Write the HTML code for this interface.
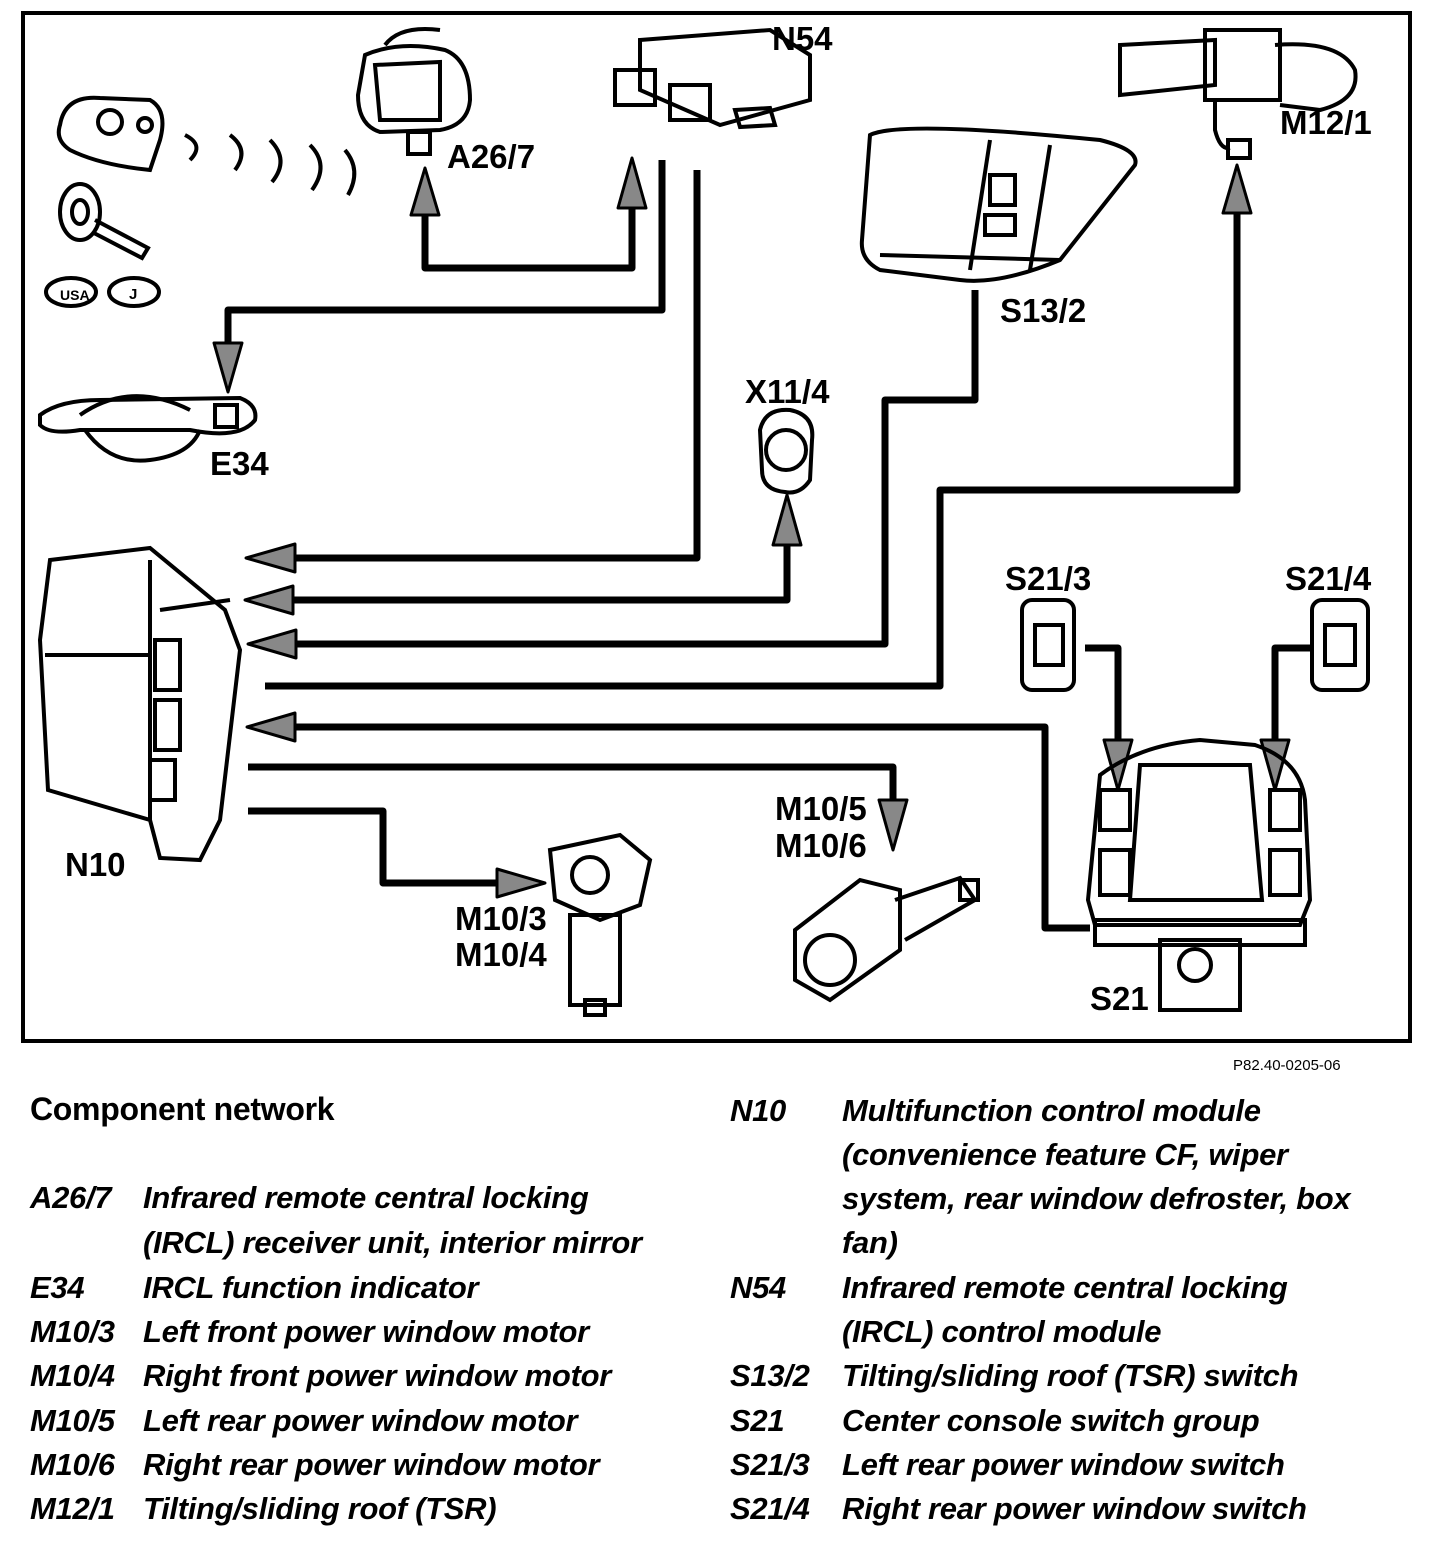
<!DOCTYPE html>
<html><head><style>
html,body{margin:0;padding:0;background:#fff}
body{width:1440px;height:1550px;position:relative;overflow:hidden;font-family:"Liberation Sans",sans-serif}
.lg{position:absolute;font-weight:bold;font-style:italic;font-size:31px;letter-spacing:-0.3px;color:#000;white-space:nowrap}
</style></head><body>
<svg width="1440" height="1080" style="position:absolute;left:0;top:0" font-family="Liberation Sans" font-weight="bold">
<rect x="23" y="13" width="1387" height="1028" fill="none" stroke="#000" stroke-width="4"/>
<g fill="none" stroke="#000" stroke-width="7" stroke-linejoin="round">
<polyline points="425,210 425,268 632,268 632,205"/>
<polyline points="662,160 662,310 228,310 228,345"/>
<polyline points="697,170 697,558 290,558"/>
<polyline points="787,540 787,600 290,600"/>
<polyline points="975,290 975,400 885,400 885,644 290,644"/>
<polyline points="1237,210 1237,490 940,490 940,686 265,686"/>
<polyline points="290,727 1045,727 1045,928 1090,928"/>
<polyline points="248,767 893,767 893,805"/>
<polyline points="248,811 383,811 383,883 500,883"/>
<polyline points="1085,648 1118,648 1118,745"/>
<polyline points="1310,648 1275,648 1275,745"/>
</g>
<g fill="#888" stroke="#000" stroke-width="3" stroke-linejoin="round">
<polygon points="246,558 295,544 295,572"/>
<polygon points="245,600 293,586 293,614"/>
<polygon points="248,644 296,630 296,658"/>
<polygon points="247,727 295,713 295,741"/>
<polygon points="425,168 411,215 439,215"/>
<polygon points="632,158 618,208 646,208"/>
<polygon points="787,495 773,545 801,545"/>
<polygon points="1237,165 1223,213 1251,213"/>
<polygon points="228,392 214,343 242,343"/>
<polygon points="893,850 879,800 907,800"/>
<polygon points="545,883 497,869 497,897"/>
<polygon points="1118,790 1104,740 1132,740"/>
<polygon points="1275,790 1261,740 1289,740"/>
</g>
<g fill="none" stroke="#000" stroke-width="4">
<path d="M60,125 Q65,95 100,98 L150,100 Q168,110 160,140 L150,170 Q100,165 70,150 Q55,140 60,125Z"/>
<circle cx="110" cy="122" r="12"/><circle cx="145" cy="125" r="7"/>
<ellipse cx="80" cy="212" rx="20" ry="28"/><ellipse cx="80" cy="212" rx="8" ry="12"/>
<path d="M95,220 L148,248 L142,258 L92,232"/>
<ellipse cx="71" cy="292" rx="25" ry="14"/><ellipse cx="134" cy="292" rx="25" ry="14"/>
<path d="M185,135 Q205,145 190,160"/><path d="M230,135 Q250,150 235,170"/><path d="M270,140 Q290,160 272,182"/><path d="M310,145 Q330,165 312,190"/><path d="M345,150 Q362,170 348,195"/>
<path d="M365,55 Q400,40 445,50 Q470,60 470,100 Q468,125 440,130 L380,132 Q358,125 358,95Z"/>
<path d="M375,65 L440,62 L440,120 L380,120Z"/>
<rect x="408" y="132" width="22" height="22"/>
<path d="M385,45 Q400,25 440,30"/>
<path d="M640,40 L770,30 L810,55 L810,100 L720,125 L640,90Z"/>
<rect x="615" y="70" width="40" height="35"/><rect x="670" y="85" width="40" height="35"/>
<path d="M735,110 L770,108 L775,125 L740,127Z"/>
<path d="M1120,45 L1215,40 L1215,85 L1120,95Z"/>
<rect x="1205" y="30" width="75" height="70"/>
<path d="M1275,45 Q1340,40 1355,70 Q1360,100 1320,110 L1280,105"/>
<path d="M1215,100 L1215,130 Q1220,150 1230,148"/><rect x="1228" y="140" width="22" height="18"/>
<path d="M870,135 Q900,120 1100,140 Q1140,150 1135,165 L1060,260 Q1000,285 960,280 L880,270 Q860,260 862,240Z"/>
<path d="M990,140 L970,270"/><path d="M1050,145 L1030,270"/>
<rect x="990" y="175" width="25" height="30"/><rect x="985" y="215" width="30" height="20"/>
<path d="M880,255 L1060,260"/>
<path d="M40,415 Q60,400 100,400 L240,398 Q258,405 255,420 Q240,440 190,430 L80,430 Q50,435 40,425Z"/>
<path d="M85,430 Q110,465 150,460 Q190,455 200,430"/>
<path d="M80,415 Q130,380 190,410"/><rect x="215" y="405" width="22" height="22"/>
<path d="M760,430 Q765,408 790,410 Q815,415 812,440 L810,480 Q800,495 785,492 Q762,490 762,470Z"/>
<circle cx="786" cy="450" r="20"/>
<path d="M50,560 L150,548 L225,610 L240,650 L220,820 L200,860 L160,858 L150,820 L48,790 L40,640Z"/>
<path d="M45,655 L148,655"/><path d="M150,560 L150,820"/><path d="M160,610 L230,600"/>
<rect x="155" y="640" width="25" height="50"/><rect x="155" y="700" width="25" height="50"/><rect x="150" y="760" width="25" height="40"/>
<rect x="1022" y="600" width="52" height="90" rx="10"/><rect x="1035" y="625" width="28" height="40"/>
<rect x="1312" y="600" width="56" height="90" rx="10"/><rect x="1325" y="625" width="30" height="40"/>
<path d="M1100,775 Q1140,745 1200,740 L1255,745 Q1300,760 1305,800 L1310,900 L1300,925 L1095,925 L1088,900Z"/>
<path d="M1140,765 L1250,765 L1262,900 L1130,900Z"/>
<rect x="1095" y="920" width="210" height="25"/>
<rect x="1160" y="940" width="80" height="70"/><circle cx="1195" cy="965" r="16"/>
<rect x="1100" y="790" width="30" height="40"/><rect x="1100" y="850" width="30" height="45"/>
<rect x="1270" y="790" width="30" height="40"/><rect x="1270" y="850" width="30" height="45"/>
<path d="M550,850 L620,835 L650,860 L640,905 L600,920 L555,900Z"/>
<circle cx="590" cy="875" r="18"/>
<rect x="570" y="915" width="50" height="90"/><rect x="585" y="1000" width="20" height="15"/>
<path d="M795,930 L860,880 L900,890 L900,950 L830,1000 L795,980Z"/>
<circle cx="830" cy="960" r="25"/>
<path d="M895,900 L960,878 L975,900 L905,940"/><rect x="960" y="880" width="18" height="20"/>
</g>
<g font-size="33" fill="#000">
<text x="447" y="168">A26/7</text>
<text x="772" y="50">N54</text>
<text x="1280" y="134">M12/1</text>
<text x="1000" y="322">S13/2</text>
<text x="210" y="475">E34</text>
<text x="745" y="403">X11/4</text>
<text x="65" y="876">N10</text>
<text x="1005" y="590">S21/3</text>
<text x="1285" y="590">S21/4</text>
<text x="1090" y="1010">S21</text>
<text x="455" y="930">M10/3</text>
<text x="455" y="966">M10/4</text>
<text x="775" y="820">M10/5</text>
<text x="775" y="857">M10/6</text>
<text x="60" y="300" font-size="14">USA</text>
<text x="129" y="299" font-size="15">J</text>
<text x="1233" y="1070" font-size="15" font-weight="normal">P82.40-0205-06</text>
</g>
</svg>
<div class="lg" style="left:30px;top:1091px;font-style:normal;font-size:32px">Component network</div>
<div class="lg" style="left:30px;top:1180px">A26/7</div><div class="lg" style="left:143px;top:1180px">Infrared remote central locking</div>
<div class="lg" style="left:143px;top:1225px">(IRCL) receiver unit, interior mirror</div>
<div class="lg" style="left:30px;top:1270px">E34</div><div class="lg" style="left:143px;top:1270px">IRCL function indicator</div>
<div class="lg" style="left:30px;top:1314px">M10/3</div><div class="lg" style="left:143px;top:1314px">Left front power window motor</div>
<div class="lg" style="left:30px;top:1358px">M10/4</div><div class="lg" style="left:143px;top:1358px">Right front power window motor</div>
<div class="lg" style="left:30px;top:1403px">M10/5</div><div class="lg" style="left:143px;top:1403px">Left rear power window motor</div>
<div class="lg" style="left:30px;top:1447px">M10/6</div><div class="lg" style="left:143px;top:1447px">Right rear power window motor</div>
<div class="lg" style="left:30px;top:1491px">M12/1</div><div class="lg" style="left:143px;top:1491px">Tilting/sliding roof (TSR)</div>
<div class="lg" style="left:730px;top:1093px">N10</div><div class="lg" style="left:842px;top:1093px">Multifunction control module</div>
<div class="lg" style="left:842px;top:1137px">(convenience feature CF, wiper</div>
<div class="lg" style="left:842px;top:1181px">system, rear window defroster, box</div>
<div class="lg" style="left:842px;top:1225px">fan)</div>
<div class="lg" style="left:730px;top:1270px">N54</div><div class="lg" style="left:842px;top:1270px">Infrared remote central locking</div>
<div class="lg" style="left:842px;top:1314px">(IRCL) control module</div>
<div class="lg" style="left:730px;top:1358px">S13/2</div><div class="lg" style="left:842px;top:1358px">Tilting/sliding roof (TSR) switch</div>
<div class="lg" style="left:730px;top:1403px">S21</div><div class="lg" style="left:842px;top:1403px">Center console switch group</div>
<div class="lg" style="left:730px;top:1447px">S21/3</div><div class="lg" style="left:842px;top:1447px">Left rear power window switch</div>
<div class="lg" style="left:730px;top:1491px">S21/4</div><div class="lg" style="left:842px;top:1491px">Right rear power window switch</div>
</body></html>
